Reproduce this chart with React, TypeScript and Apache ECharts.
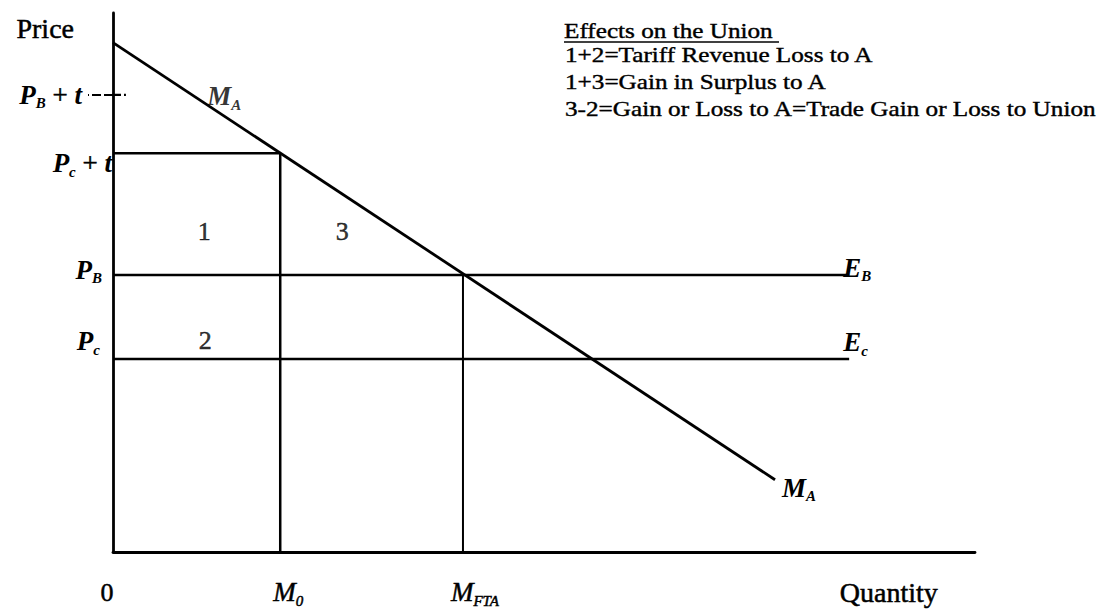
import { useEffect, useRef } from 'react';
import * as echarts from 'echarts';

const SERIF = '"Liberation Serif", "Times New Roman", serif';

// ---- data (arbitrary units 0..100) ----
const demandLine = [[0, 94.5], [76.8, 13.4]];
const tariffPriceB = 84.8; // P_B + t
const tariffPriceC = 74; // P_c + t
const priceB = 51.4; // P_B / E_B
const priceC = 35.8; // P_c / E_c
const importM0 = 19.4;
const importFTA = 40.6;
const supplyEndX = 85.4;
const tariffTickX = [-2.9, 1.5];
const xTickValues = [0, 19.4, 40.6, 90];
const xTickLabels = ['{zero|0}', '{m0|M}{sub|0}', '{mf|M}{sub|FTA}', '{q|Quantity}'];
const areaNames = ['1', '2', '3', '{p|M}{sub|A}'];
const areaX = [10.6, 10.7, 26.6, 12.9];
const areaY = [59.4, 39.3, 59.4, 84.6];
const yAxisName = 'Price';
const legendTitle = 'Effects on the Union';
const legendLines = [
  '1+2=Tariff Revenue Loss to A',
  '1+3=Gain in Surplus to A',
  '3-2=Gain or Loss to A=Trade Gain or Loss to Union',
];

const heavy = { textBorderColor: '#000', textBorderWidth: 0.5 };

const it = {
  fontFamily: SERIF,
  fontStyle: 'italic',
  fontWeight: 'bold',
  fontSize: 27,
  lineHeight: 32,
  color: '#000',
};
const sub = {
  fontFamily: SERIF,
  fontStyle: 'italic',
  fontWeight: 'bold',
  fontSize: 15,
  lineHeight: 15,
  verticalAlign: 'bottom',
  color: '#000',
};
const rich: any = {
  p: it,
  sub,
  n: { ...it, fontStyle: 'normal', fontWeight: 'normal', ...heavy },
  r: { fontFamily: SERIF, fontSize: 26, lineHeight: 30, color: '#000', ...heavy },
};

function lbl(formatter: string, position: string, distance: number, offset: number[]) {
  return { show: true, position, distance, offset, formatter, rich };
}

function seg(name: string, data: any[], extra: any = {}) {
  return {
    name,
    type: 'line',
    data,
    symbol: 'circle',
    symbolSize: 0,
    showSymbol: true,
    silent: true,
    clip: false,
    lineStyle: { color: '#000', width: 2.5 },
    itemStyle: { color: '#000' },
    label: { show: false },
    emphasis: { disabled: true },
    ...extra,
  };
}

export default function App() {
  const ref = useRef<HTMLDivElement>(null);
  useEffect(() => {
    if (!ref.current) return;
    const chart = echarts.init(ref.current, null, { renderer: 'svg' });
    const legendY = [55, 82, 109];
    chart.setOption({
      animation: false,
      backgroundColor: '#fff',
      grid: { left: 113, right: 145, top: 13, bottom: 58, containLabel: false, outerBoundsMode: 'none' },
      xAxis: {
        type: 'value',
        min: 0,
        max: 100,
        axisLine: { show: true, onZero: false, lineStyle: { color: '#000', width: 2.8 } },
        axisTick: { show: false },
        splitLine: { show: false },
        axisLabel: {
          customValues: xTickValues,
          margin: 24,
          formatter: (v: number) => {
            const i = xTickValues.findIndex((t) => Math.abs(t - v) < 1e-6);
            return i >= 0 ? xTickLabels[i] : '';
          },
          rich: {
            zero: { fontFamily: SERIF, fontSize: 26, lineHeight: 32, color: '#000', padding: [0, 12, 0, 0], ...heavy },
            q: { fontFamily: SERIF, fontSize: 28, lineHeight: 32, color: '#000', ...heavy },
            m0: { ...it, fontWeight: 'normal', padding: [0, 0, 0, 16], ...heavy },
            mf: { ...it, fontWeight: 'normal', padding: [0, 0, 0, 24], ...heavy },
            sub: { ...sub, fontWeight: 'normal', ...heavy },
          },
        },
      },
      yAxis: {
        type: 'value',
        min: 0,
        max: 100,
        name: yAxisName,
        nameLocation: 'end',
        nameGap: -15,
        nameTextStyle: {
          fontFamily: SERIF,
          fontSize: 28,
          color: '#000',
          align: 'right',
          verticalAlign: 'middle',
          padding: [0, 39, 0, 0],
          ...heavy,
        },
        axisLine: { show: true, onZero: false, lineStyle: { color: '#000', width: 2.8 } },
        axisTick: {
          show: true,
          customValues: [tariffPriceB],
          length: 25,
          lineStyle: { color: '#000', width: 2.2, type: [9, 3] },
        },
        splitLine: { show: false },
        axisLabel: { show: false },
      },
      series: [
        seg(
          'demand',
          [
            demandLine[0],
            { value: demandLine[1], label: lbl('{p|M}{sub|A}', 'right', 7, [0, 8]) },
          ],
          { lineStyle: { color: '#000', width: 2.8 } }
        ),
        seg('tariffC', [
          { value: [0, tariffPriceC], label: lbl('{p|P}{sub|c}{n| + }{p|t}', 'left', 1, [0, 10]) },
          [importM0, tariffPriceC],
          [importM0, 0],
        ]),
        seg('priceB', [
          { value: [0, priceB], label: lbl('{p|P}{sub|B}', 'left', 11, [0, -5]) },
          { value: [supplyEndX, priceB], label: lbl('{p|E}{sub|B}', 'right', -6, [0, -7]) },
        ]),
        seg('fta', [
          [importFTA, priceB],
          [importFTA, 0],
        ], { lineStyle: { color: '#000', width: 2 } }),
        seg('priceC', [
          { value: [0, priceC], label: lbl('{p|P}{sub|c}', 'left', 13, [0, -18]) },
          { value: [supplyEndX, priceC], label: lbl('{p|E}{sub|c}', 'right', -6, [0, -17]) },
        ]),
        seg(
          'tariffB',
          [
            { value: [tariffTickX[0], tariffPriceB], label: lbl('{p|P}{sub|B}{n| + }{p|t}', 'left', 6, [0, 0]) },
            [tariffTickX[1], tariffPriceB],
          ],
          { lineStyle: { color: '#000', width: 2.2, type: [9, 3] } }
        ),
        {
          name: 'areas',
          type: 'scatter',
          silent: true,
          symbolSize: 0,
          data: areaX.map((x, i) => [x, areaY[i]]),
          label: {
            show: true,
            position: 'inside',
            formatter: (p: any) => {
              const s = areaNames[p.dataIndex];
              return s.startsWith('{') ? s : '{r|' + s + '}';
            },
            rich,
          },
        },
      ],
      graphic: [
        {
          type: 'text',
          x: 564,
          y: 31,
          scaleX: 1.2,
          style: { text: legendTitle, fontFamily: SERIF, fontSize: 21, fill: '#000', verticalAlign: 'middle', stroke: '#000', lineWidth: 0.4 },
        },
        {
          type: 'line',
          shape: { x1: 564, y1: 42, x2: 779, y2: 42 },
          style: { stroke: '#000', lineWidth: 1.6 },
        },
        ...legendLines.map((t, i) => ({
          type: 'text',
          x: 565,
          y: legendY[i],
          scaleX: 1.2,
          style: { text: t, fontFamily: SERIF, fontSize: 21, fill: '#000', verticalAlign: 'middle', stroke: '#000', lineWidth: 0.4 },
        })),
      ],
    });
    return () => chart.dispose();
  }, []);
  return (
    <div
      ref={ref}
      style={{ position: 'absolute', left: 0, top: 0, width: 1120, height: 610, background: '#fff' }}
    />
  );
}
